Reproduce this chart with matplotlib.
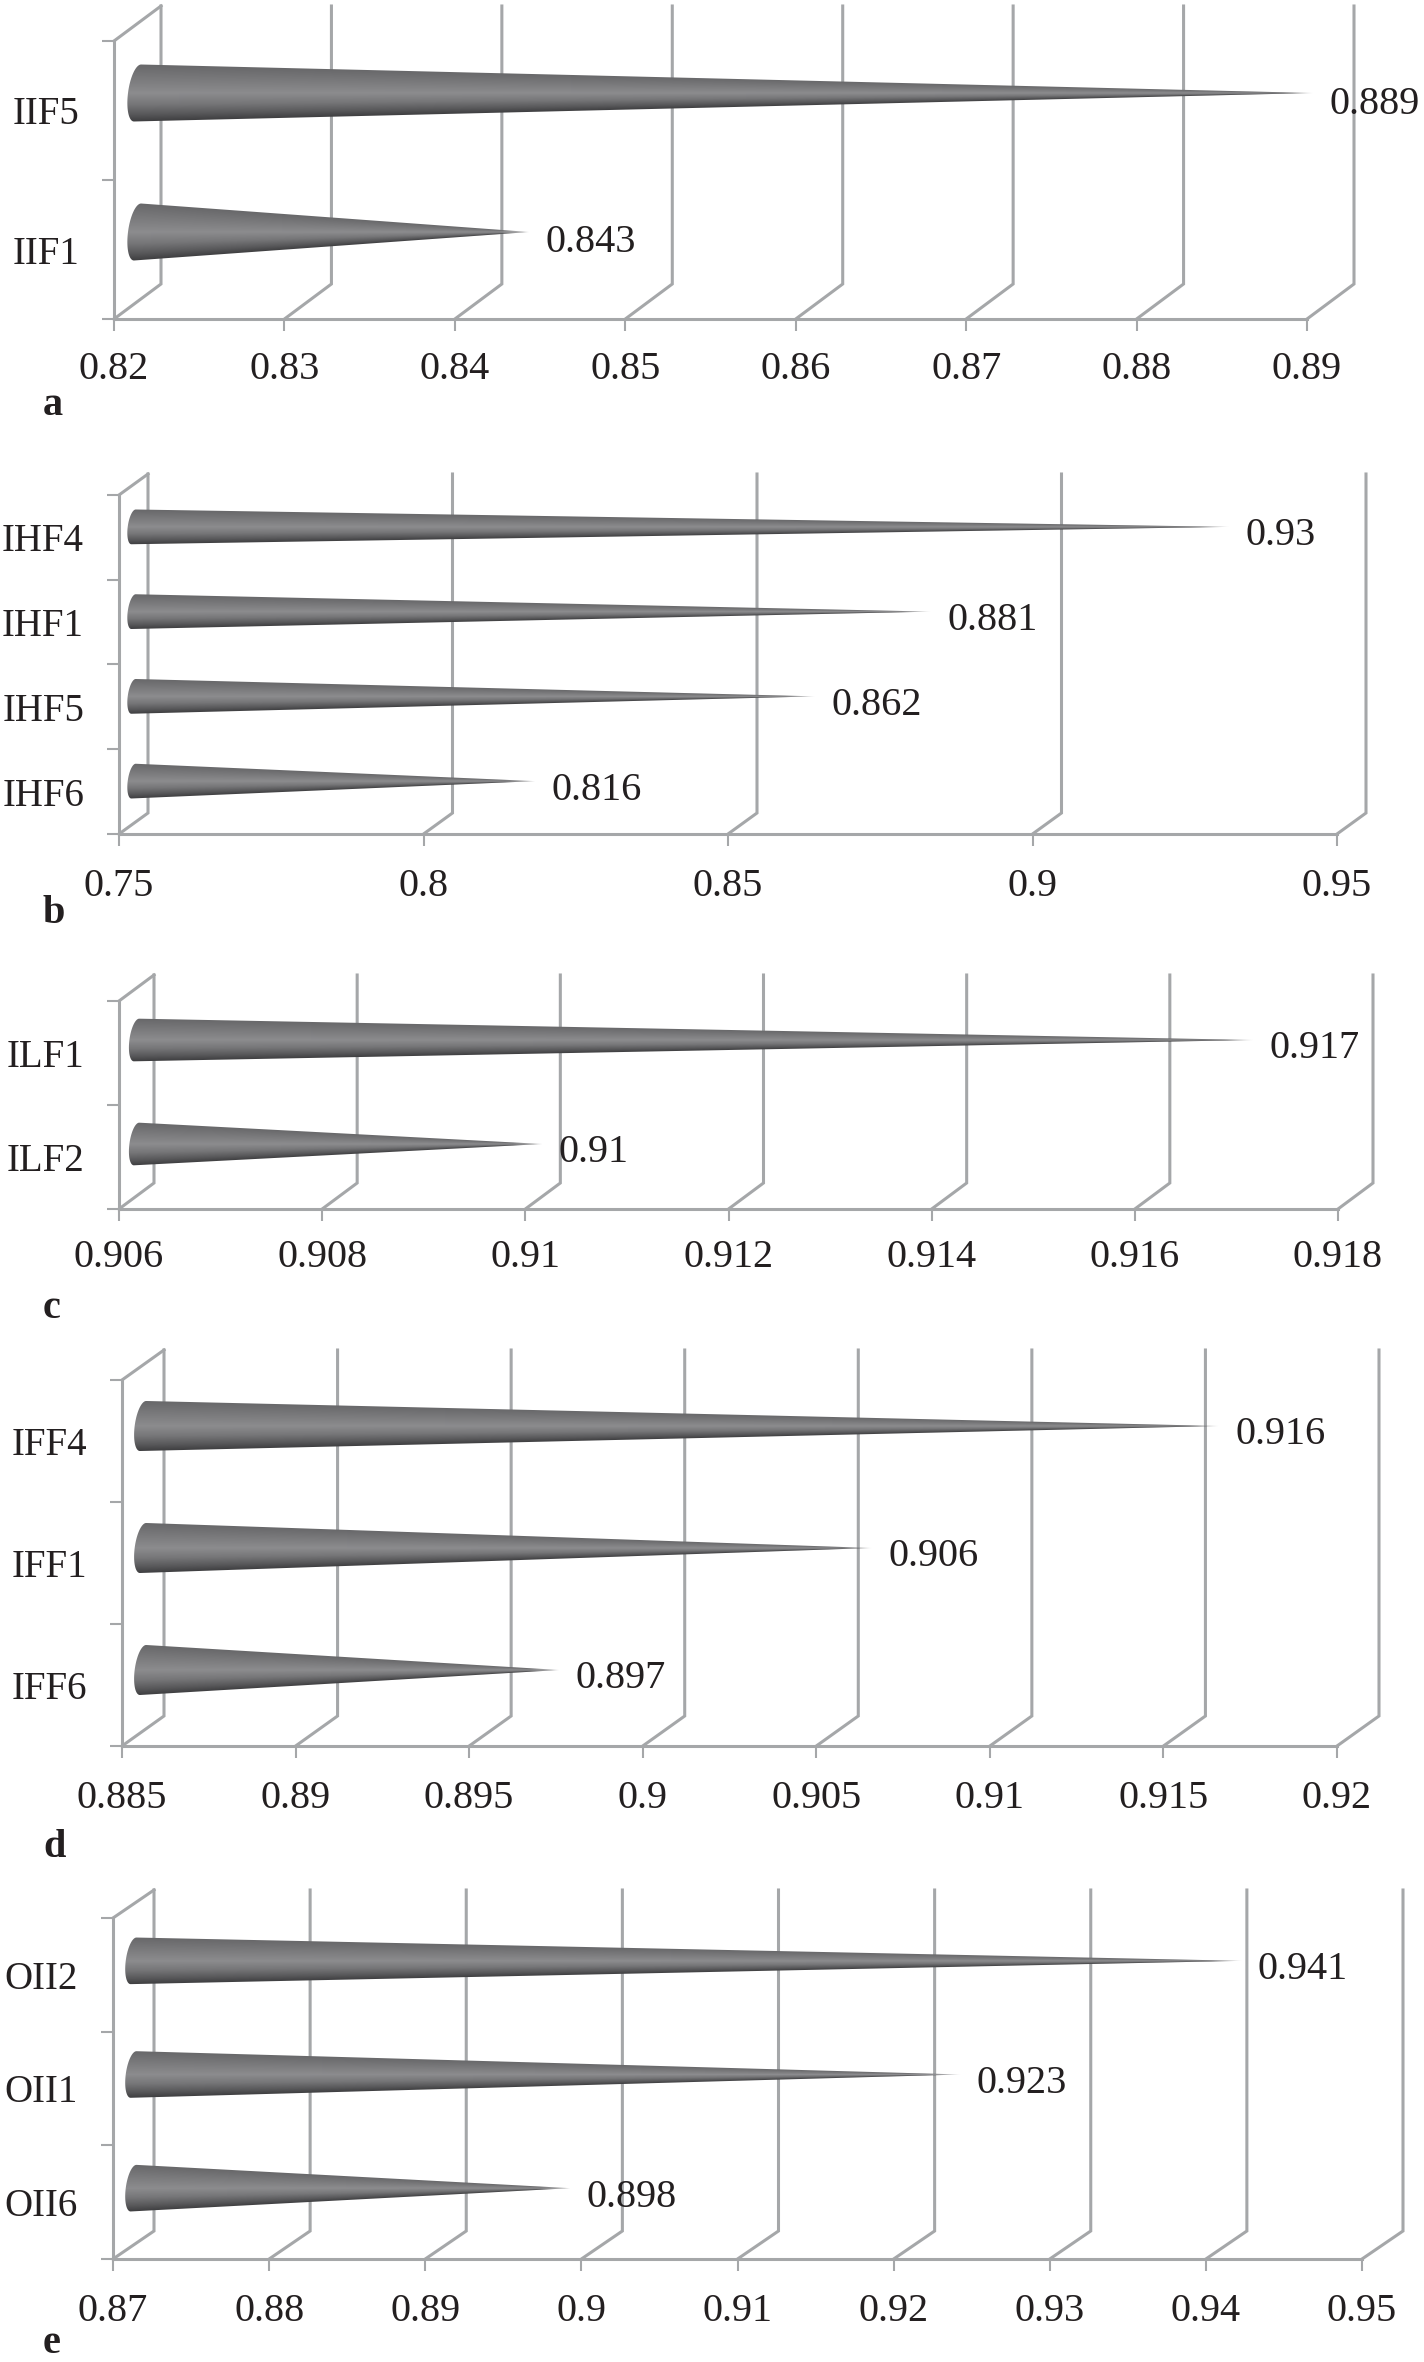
import numpy as np
import matplotlib
matplotlib.use('Agg')
import matplotlib.pyplot as plt
from matplotlib.path import Path
from matplotlib.transforms import IdentityTransform

W, H = 1424, 2362
plt.rcParams['font.family'] = ['Liberation Serif', 'DejaVu Serif']

# values
cats_a = ['IIF5', 'IIF1']
vals_a = [0.889, 0.843]
ticks_a = [0.82, 0.83, 0.84, 0.85, 0.86, 0.87, 0.88, 0.89]

cats_b = ['IHF4', 'IHF1', 'IHF5', 'IHF6']
vals_b = [0.93, 0.881, 0.862, 0.816]
ticks_b = [0.75, 0.8, 0.85, 0.9, 0.95]

cats_c = ['ILF1', 'ILF2']
vals_c = [0.917, 0.91]
ticks_c = [0.906, 0.908, 0.91, 0.912, 0.914, 0.916, 0.918]

cats_d = ['IFF4', 'IFF1', 'IFF6']
vals_d = [0.916, 0.906, 0.897]
ticks_d = [0.885, 0.89, 0.895, 0.9, 0.905, 0.91, 0.915, 0.92]

cats_e = ['OII2', 'OII1', 'OII6']
vals_e = [0.941, 0.923, 0.898]
ticks_e = [0.87, 0.88, 0.89, 0.9, 0.91, 0.92, 0.93, 0.94, 0.95]

panels = [
    ('a', cats_a, vals_a, ticks_a),
    ('b', cats_b, vals_b, ticks_b),
    ('c', cats_c, vals_c, ticks_c),
    ('d', cats_d, vals_d, ticks_d),
    ('e', cats_e, vals_e, ticks_e),
]

# left, right, top, bottom of the front plane, depth x/y, gap to tick label,
# letter baseline, value label drop (px)
layout = {
    'a': (114, 1307, 41, 319, 47, 35, 46, 415, 11),
    'b': (119, 1337, 495, 834, 29, 21, 48, 923, 9),
    'c': (119, 1338, 1001, 1209, 35, 26, 44, 1318, 9),
    'd': (122, 1337, 1380, 1746, 42, 30, 48, 1857, 9),
    'e': (113, 1362, 1918, 2259, 41, 28, 48, 2353, 9),
}

GRID = '#a5a7a9'
LW = 2.2
FS = 29
stops_s = [-1.0, -0.75, -0.4, 0.0, 0.5, 1.0]
stops_c = [62, 88, 118, 140, 122, 104]


def draw_cone(ax, tip_x, base_x, cy, h):
    """Shaded cone in display pixels, y up."""
    half = h / 2
    rx = h / 6
    skew = h / 16
    t = np.radians(np.linspace(90, 270, 40))
    bx = base_x + rx * np.cos(t) + skew * np.sin(t)
    by = cy + half * np.sin(t)
    verts = np.column_stack([np.r_[bx, tip_x, bx[0]], np.r_[by, cy, by[0]]])
    x0, x1 = int(base_x - rx - 2), int(tip_x + 2)
    y0, y1 = int(cy - half - 2), int(cy + half + 2)
    xs = np.arange(x0, x1) + 0.5
    ys = np.arange(y0, y1) + 0.5
    X, Y = np.meshgrid(xs, ys)
    local = np.clip(half * (tip_x - X) / (tip_x - base_x), 0.3, half)
    s = np.clip((Y - cy) / local, -1, 1)
    grey = np.interp(s, stops_s, stops_c) / 255
    alpha = np.clip((tip_x - X) / 30, 0, 1) ** 0.5
    rgba = np.dstack([grey, grey, grey + 0.008, alpha])
    im = ax.imshow(rgba, origin='lower', extent=(x0, x1, y0, y1), aspect='auto',
                   interpolation='nearest', transform=IdentityTransform(), zorder=4)
    im.set_clip_box(ax.figure.bbox)
    im.set_clip_path(Path(verts, closed=True), IdentityTransform())


fig = plt.figure(figsize=(W / 100, H / 100), dpi=100, facecolor='white')

for name, cats, vals, ticks in panels:
    left, right, top, bottom, dx, dy, gap, letter_y, drop = layout[name]
    ax = fig.add_axes([left / W, 1 - bottom / H, (right - left) / W, (bottom - top) / H])
    n = len(cats)
    ax.set_xlim(ticks[0], ticks[-1])
    ax.set_ylim(0, n)
    ax.patch.set_visible(False)
    for s in ['top', 'right']:
        ax.spines[s].set_visible(False)
    for s in ['left', 'bottom']:
        ax.spines[s].set_color(GRID)
        ax.spines[s].set_linewidth(LW)

    ax.set_xticks(ticks)
    ax.set_xticklabels([f'{t:g}' for t in ticks])
    ax.set_yticks(range(n + 1))
    ax.set_yticklabels([])
    ax.set_yticks(np.arange(n) + 0.5, minor=True)
    ax.set_yticklabels(cats[::-1], minor=True)
    ax.tick_params(axis='both', which='major', length=12 * 0.72, width=1.5, color=GRID, labelsize=FS)
    ax.tick_params(axis='x', pad=(gap - 14 - 12) * 0.72)
    ax.tick_params(axis='y', which='minor', length=0, labelsize=FS - 1, pad=35 * 0.72)

    # side wall and back wall drawn with the depth offset, from the axes scales
    to_px = ax.transData.transform
    px = IdentityTransform()
    for t in ticks:
        fx, fy = to_px((t, 0))
        bx, by = to_px((t, n))
        ax.plot([fx, fx + dx, bx + dx], [fy, fy + dy, by + dy], color=GRID, lw=LW,
                transform=px, clip_on=False, zorder=2, solid_joinstyle='miter')
    fx, fy = to_px((ticks[0], n))
    ax.plot([fx, fx + dx], [fy, fy + dy], color=GRID, lw=LW, transform=px, clip_on=False, zorder=2)

    for i, v in enumerate(vals):
        pos = n - 1 - i + 0.5
        tip_x, cy = to_px((v, pos)) + np.array([dx / 2, dy / 2])
        base_x = to_px((ticks[0], pos))[0] + dx / 2
        h = 0.41 * (to_px((0, 1))[1] - to_px((0, 0))[1])
        draw_cone(ax, tip_x, base_x, cy, h)
        ax.text(tip_x + 16, cy - drop, f'{v:g}', fontsize=FS, va='center', ha='left',
                color='#231f20', transform=px, zorder=5)

    for lab in ax.get_xticklabels() + ax.get_yticklabels(minor=True):
        lab.set_color('#231f20')
    ax.set_xlim(ticks[0], ticks[-1])
    ax.set_ylim(0, n)

    fig.text(43 / W, 1 - letter_y / H, name, fontsize=FS, fontweight='bold', color='#231f20',
             ha='left', va='baseline')

fig.savefig('out.png', dpi=100)
